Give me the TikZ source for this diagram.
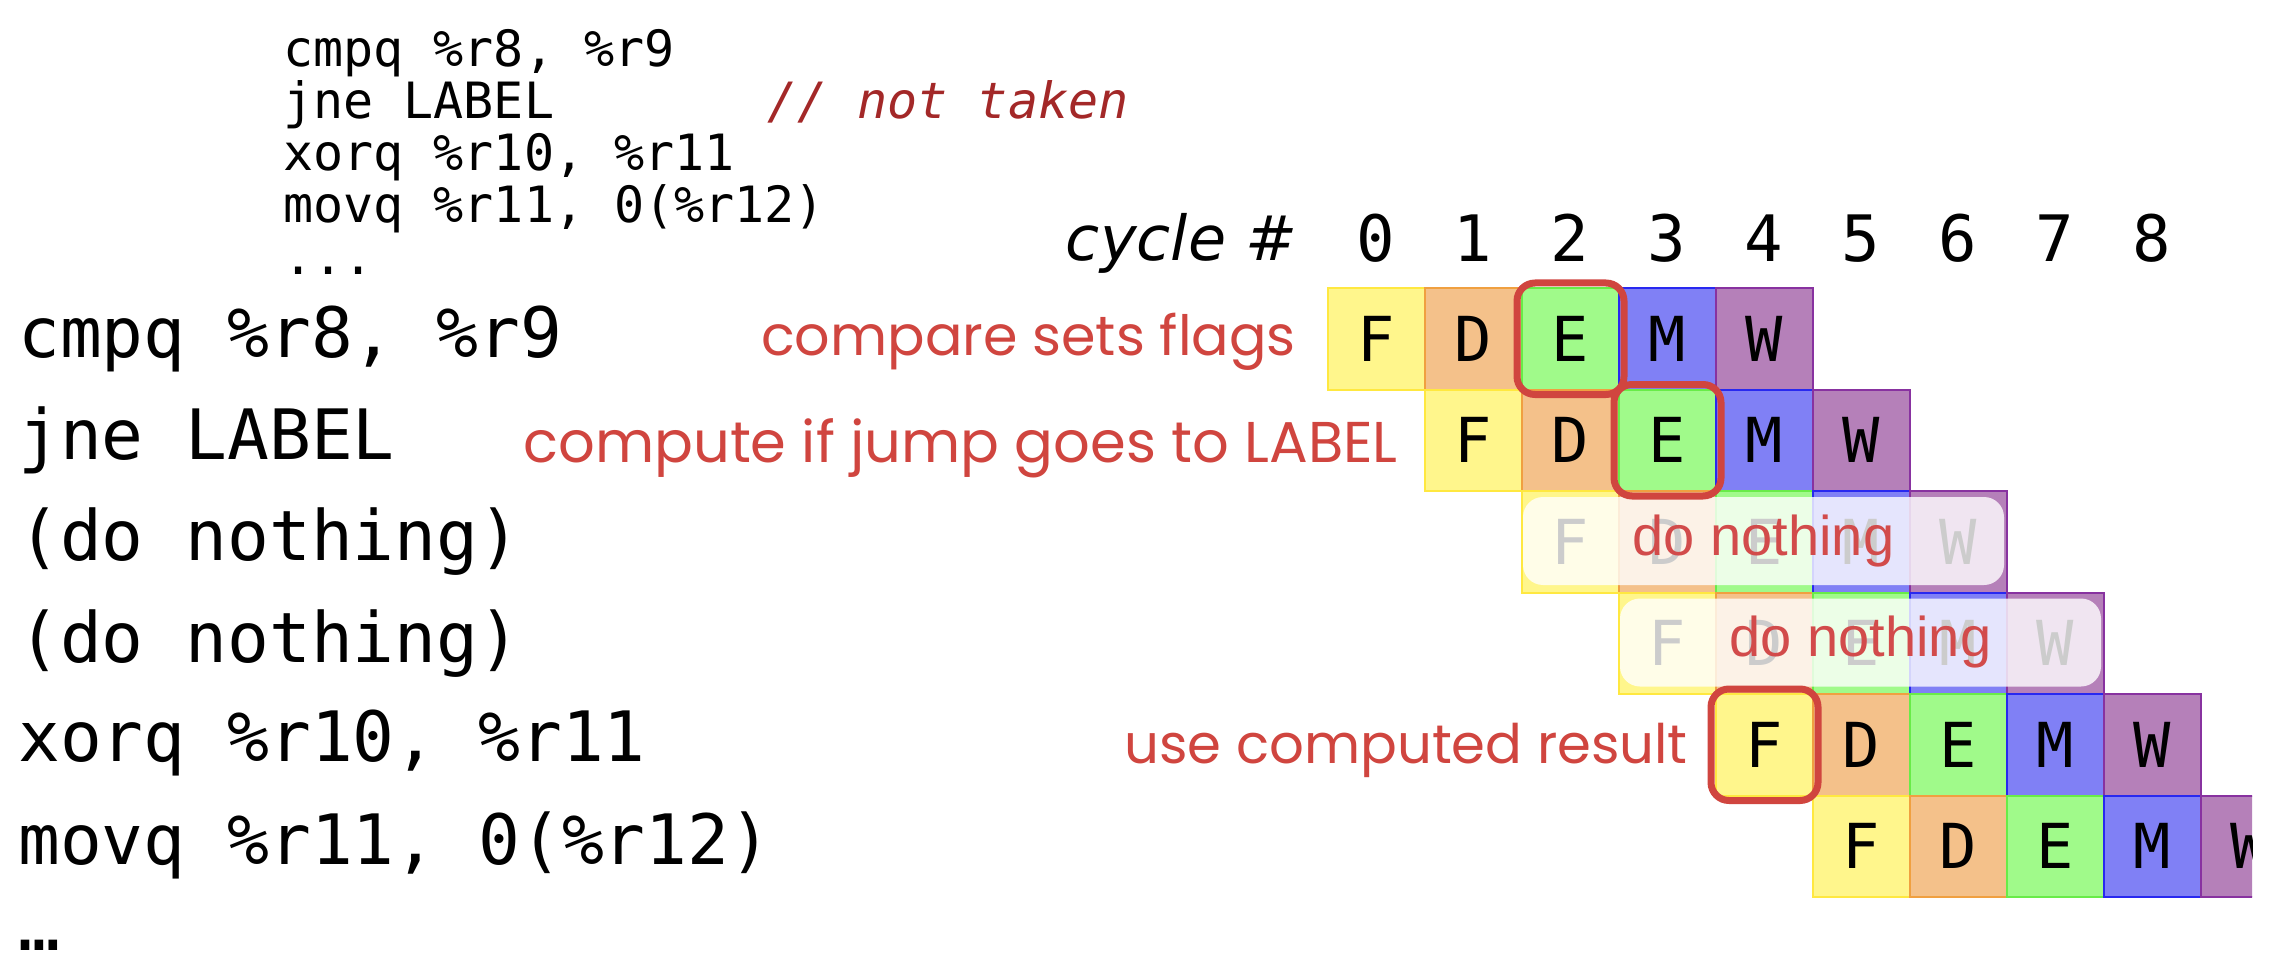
\documentclass[tikz,border=0pt]{standalone}
\usepackage{fontspec}
\setmainfont{DejaVu Sans}
\newfontfamily\monof{DejaVu Sans Mono}
\newfontfamily\dvsf{DejaVu Sans}
\newfontfamily\handf{Poppins}
\newfontfamily\dnf{Liberation Sans}
\usetikzlibrary{fit}
\definecolor{fFill}{HTML}{FFF68C}\definecolor{fLine}{HTML}{FFE840}
\definecolor{dFill}{HTML}{F4C18A}\definecolor{dLine}{HTML}{F0A040}
\definecolor{eFill}{HTML}{A0FA8A}\definecolor{eLine}{HTML}{68EC48}
\definecolor{mFill}{HTML}{8080F5}\definecolor{mLine}{HTML}{2828F0}
\definecolor{wFill}{HTML}{B580B9}\definecolor{wLine}{HTML}{8832A0}
\definecolor{annred}{HTML}{D0453F}
\definecolor{dnred}{HTML}{D24B4B}
\definecolor{cmtred}{HTML}{A32828}
\tikzset{
  cell/.style={anchor=north west, minimum width=97pt, minimum height=101.5pt, inner sep=0pt,
    line width=2pt, font=\monof\fontsize{62}{62}\selectfont, text=black},
  stF/.style={cell, fill=fFill, draw=fLine},
  stD/.style={cell, fill=dFill, draw=dLine},
  stE/.style={cell, fill=eFill, draw=eLine},
  stM/.style={cell, fill=mFill, draw=mLine},
  stW/.style={cell, fill=wFill, draw=wLine},
  fadebox/.style={fill=white, fill opacity=0.8, rounded corners=20pt, inner sep=0pt,
    minimum width=481pt, minimum height=88pt},
  dntext/.style={text=dnred, font=\dnf\fontsize{56}{56}\selectfont, inner sep=0pt},
  hlbox/.style={draw=annred, line width=7pt, rounded corners=18pt, inner sep=4pt},
  hand/.style={text=annred, inner sep=0pt, anchor=east},
  rowlab/.style={font=\monof\fontsize{69.5}{69.5}\selectfont, inner sep=0pt, anchor=base west},
  codeln/.style={font=\monof\fontsize{50}{50}\selectfont, inner sep=0pt, anchor=base west},
  cmt/.style={font=\monof\itshape\fontsize{50}{50}\selectfont, text=cmtred, inner sep=0pt, anchor=base west},
  digit/.style={font=\monof\fontsize{64}{64}\selectfont, inner sep=0pt, anchor=base},
  cyc/.style={font=\dvsf\itshape\fontsize{62}{62}\selectfont, inner sep=0pt, anchor=base east},
}
\begin{document}
\begin{tikzpicture}[x=1pt,y=-1pt]
\useasboundingbox (0,0) rectangle (2270,976);
\fill[white] (0,0) rectangle (2270,976);

% top code listing
\node[codeln] (code1) at (283,67) {cmpq \%r8, \%r9};
\node[codeln] (code2) at (283,119) {jne LABEL};
\node[cmt] (cmt2) at (767,119) {// not taken};
\node[codeln] (code3) at (283,171) {xorq \%r10, \%r11};
\node[codeln] (code4) at (283,223) {movq \%r11, 0(\%r12)};
\node[codeln] (code5) at (283,275) {...};

% cycle header
\node[cyc] (cyc) at (1298,261) {cycle \#};
\foreach \k in {0,...,8} {
  \node[digit] (n\k) at ({1375.5+97*\k},262) {\k};
}

% row labels
\node[rowlab] (l1) at (18,357) {cmpq \%r8, \%r9};
\node[rowlab] (l2) at (18,459) {jne LABEL};
\node[rowlab] (l3) at (18,560) {(do nothing)};
\node[rowlab] (l4) at (18,662) {(do nothing)};
\node[rowlab] (l5) at (18,761) {xorq \%r10, \%r11};
\node[rowlab] (l6) at (18,864) {movq \%r11, 0(\%r12)};
\node[rowlab] (l7) at (18,950) {…};

% pipeline cells
\begin{scope}
\clip (0,0) rectangle (2252,976);
\foreach \r in {1,...,6} {
  \foreach \L [count=\i from 0] in {F,D,E,M,W} {
    \pgfmathtruncatemacro\c{\r-1+\i}
    \node[st\L] (c\r-\c) at ({1327+97*\c},{287+101.5*(\r-1)}) {\L};
  }
}
\end{scope}

% faded bubbles
\node[fadebox] (fade3) at (1763.5,541) {};
\node[dntext] (dn3) at (fade3.center) {do nothing};
\node[fadebox] (fade4) at (1860.5,642.5) {};
\node[dntext] (dn4) at (fade4.center) {do nothing};

% highlight boxes
\node[hlbox, fit=(c1-2)] (h1) {};
\node[hlbox, fit=(c2-3)] (h2) {};
\node[hlbox, fit=(c5-4)] (h5) {};

% annotations
\node[hand, font=\handf\fontsize{55.5}{55.5}\selectfont] (a1) at (1296,342) {compare sets flags};
\node[hand, font=\handf\fontsize{57.5}{57.5}\selectfont] (a2) at (1398,448) {compute if jump goes to LABEL};
\node[hand, font=\handf\fontsize{54.5}{54.5}\selectfont] (a5) at (1688,750) {use computed result};
\end{tikzpicture}
\end{document}
